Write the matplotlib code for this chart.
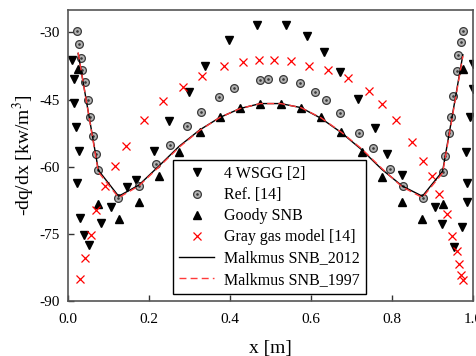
import numpy as np
import matplotlib
matplotlib.use('Agg')
import matplotlib.pyplot as plt

# values
wsgg_x = [0.010, 0.014, 0.015, 0.020, 0.026, 0.021, 0.029, 0.040, 0.051, 0.081,
          0.106, 0.146, 0.169, 0.212, 0.250, 0.299, 0.338, 0.397, 0.467, 0.538,
          0.589, 0.633, 0.672, 0.717, 0.758, 0.788, 0.825, 0.905, 0.923, 0.954,
          0.972, 0.984, 0.984, 0.983, 0.993, 0.999, 1.000]
wsgg_y = [-36.2, -40.5, -45.7, -51.2, -56.6, -63.6, -71.5, -75.2, -77.5, -72.6,
          -68.9, -64.6, -63.0, -56.5, -49.7, -43.3, -37.4, -31.6, -28.4, -28.4,
          -30.9, -34.4, -38.8, -44.8, -51.4, -57.2, -61.9, -69.1, -72.8, -77.9,
          -73.5, -67.8, -63.6, -56.7, -48.9, -42.7, -37.0]

ref_x = [0.022, 0.028, 0.031, 0.035, 0.042, 0.049, 0.054, 0.062, 0.070, 0.073,
         0.124, 0.175, 0.218, 0.252, 0.295, 0.329, 0.374, 0.411, 0.474, 0.495,
         0.531, 0.572, 0.610, 0.637, 0.671, 0.719, 0.754, 0.796, 0.826, 0.876,
         0.925, 0.932, 0.940, 0.945, 0.951, 0.960, 0.964, 0.970, 0.975]
ref_y = [-29.6, -32.7, -35.8, -38.4, -41.0, -45.0, -49.0, -53.2, -57.1, -60.7,
         -66.9, -64.3, -59.3, -55.1, -50.8, -47.7, -44.4, -42.4, -40.6, -40.4,
         -40.5, -41.4, -43.3, -45.2, -48.0, -52.4, -55.9, -60.5, -64.3, -66.9,
         -61.1, -57.6, -52.4, -48.9, -44.2, -38.7, -35.0, -32.1, -29.8]

snb_x = [0.025, 0.075, 0.125, 0.175, 0.225, 0.275, 0.325, 0.375, 0.425, 0.475,
         0.525, 0.575, 0.625, 0.675, 0.725, 0.775, 0.825, 0.875, 0.925, 0.975]
goody_y = [-38.2, -68.4, -71.7, -67.8, -62.1, -56.7, -52.2, -49.0, -47.0, -45.9,
           -45.9, -46.8, -49.0, -52.2, -56.7, -62.2, -67.8, -71.7, -68.4, -38.2]
malk2012_y = [-34.7, -60.8, -66.6, -64.1, -59.8, -55.4, -51.8, -49.0, -47.0, -45.9,
              -45.9, -46.8, -49.2, -52.4, -56.2, -60.6, -64.3, -66.6, -61.0, -35.0]
malk1997_y = [-34.5, -61.2, -66.9, -64.3, -60.0, -55.6, -51.9, -49.0, -47.0, -45.9,
              -45.9, -46.8, -49.1, -52.3, -56.0, -60.4, -64.5, -66.9, -61.4, -35.3]

gray_x = [0.030, 0.042, 0.057, 0.070, 0.092, 0.115, 0.142, 0.188, 0.235, 0.283,
          0.331, 0.386, 0.433, 0.472, 0.509, 0.550, 0.596, 0.643, 0.691, 0.742,
          0.776, 0.809, 0.849, 0.877, 0.898, 0.915, 0.935, 0.948, 0.960, 0.965,
          0.970, 0.975]
gray_y = [-85.1, -80.4, -75.2, -69.7, -64.3, -59.8, -55.4, -49.6, -45.3, -42.2,
          -39.7, -37.6, -36.6, -36.2, -36.2, -36.4, -37.4, -38.5, -40.3, -43.2,
          -46.0, -49.5, -54.5, -58.7, -62.1, -66.2, -70.5, -75.4, -78.8, -81.8,
          -84.2, -85.3]

xticks = [0.0, 0.2, 0.4, 0.6, 0.8, 1.0]
yticks = [-30, -45, -60, -75, -90]

plt.rcParams['font.family'] = ['Liberation Serif', 'DejaVu Serif']
plt.rcParams['mathtext.fontset'] = 'stix'
plt.rcParams['axes.unicode_minus'] = False

fig = plt.figure(figsize=(4.77, 3.56), dpi=100)
ax = fig.add_axes([0.1426, 0.1545, 0.849, 0.8174])

h_wsgg, = ax.plot(wsgg_x, wsgg_y, 'v', color='black', ms=6, ls='none')
h_ref1, = ax.plot(ref_x, ref_y, 'o', mfc='#b4b4b4', mec='#3a3a3a', mew=0.9, ms=5.6, ls='none')
h_ref2, = ax.plot(ref_x, ref_y, '.', color='#3a3a3a', ms=1.8, ls='none')
h_goody, = ax.plot(snb_x, goody_y, '^', color='black', ms=6, ls='none')
h_gray, = ax.plot(gray_x, gray_y, 'x', color='red', ms=5.5, mew=0.9, ls='none')
h_2012, = ax.plot(snb_x, malk2012_y, '-', color='black', lw=1.0)
h_1997, = ax.plot(snb_x, malk1997_y, '--', color='#ff3a3a', lw=1.0, dashes=(5, 3))

ax.set_xlim(0, 1.0)
ax.set_ylim(-90, -25)
ax.set_xticks(xticks)
ax.set_xticklabels([f'{t:.1f}' for t in xticks])
ax.set_yticks(yticks)
ax.tick_params(direction='in', length=4, width=1, colors='#333333', labelsize=11,
               labelcolor='black')
ax.tick_params(axis='x', pad=9)
ax.tick_params(axis='y', pad=6)
for s in ax.spines.values():
    s.set_color('#555555')
    s.set_linewidth(1.2)

ax.set_xlabel('x [m]', fontsize=14, labelpad=10)
ax.set_ylabel(r'-dq/dx [kw/m$^3$]', fontsize=14, labelpad=2)

leg = ax.legend([h_wsgg, (h_ref1, h_ref2), h_goody, h_gray, h_2012, h_1997],
                ['4 WSGG [2]', 'Ref. [14]', 'Goody SNB', 'Gray gas model [14]',
                 'Malkmus SNB_2012', 'Malkmus SNB_1997'],
                loc='lower left', bbox_to_anchor=(0.259, 0.024), fontsize=11.5,
                frameon=True, fancybox=False, edgecolor='black', framealpha=1,
                handlelength=2.2, handletextpad=0.6, labelspacing=0.32,
                borderpad=0.4, borderaxespad=0)
leg.get_frame().set_linewidth(1.0)

fig.savefig('out.png', dpi=100)
